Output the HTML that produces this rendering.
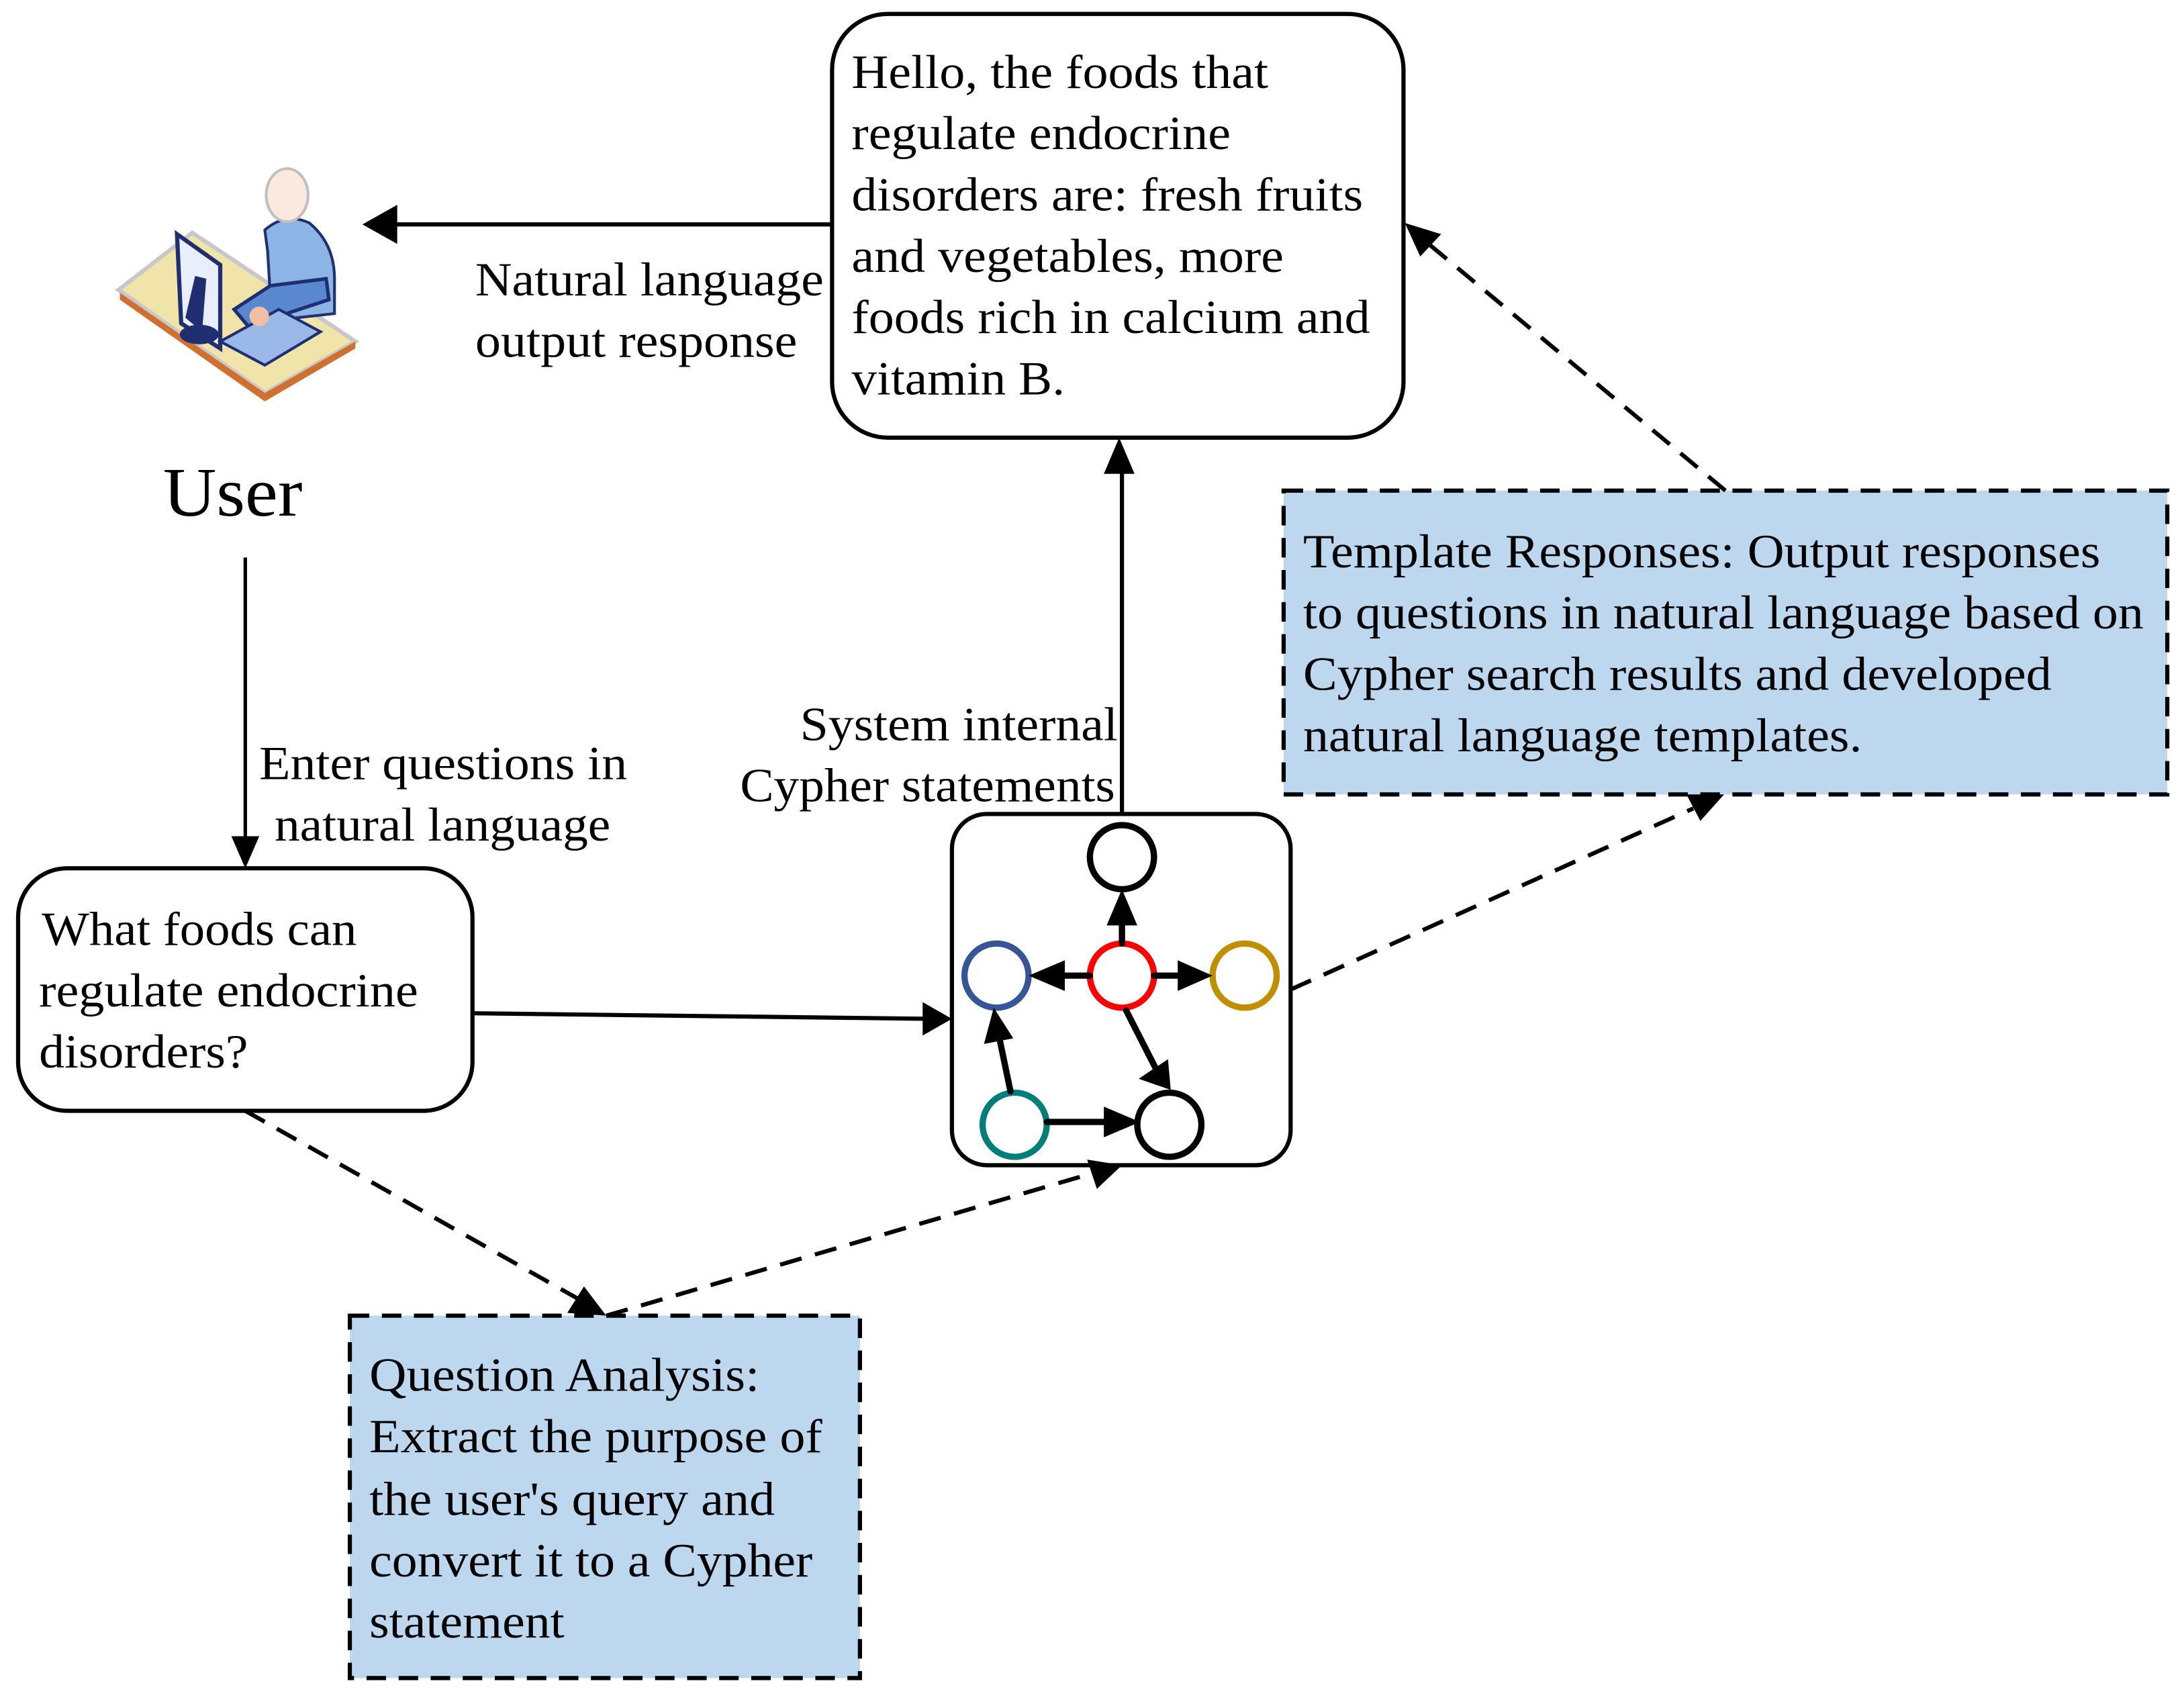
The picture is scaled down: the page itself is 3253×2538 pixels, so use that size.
<!DOCTYPE html>
<html><head><meta charset="utf-8"><style>
html,body{margin:0;padding:0;background:#fff;}
svg{display:block;}
text{font-family:"Liberation Serif",serif;font-size:34px;fill:#000;}
</style></head><body>
<svg width="3253" height="2538" viewBox="0 0 1567 1222.6" preserveAspectRatio="none" xmlns="http://www.w3.org/2000/svg">
<g font-family="Liberation Serif">
<!-- top response box -->
<rect x="597" y="10" width="410" height="304" rx="40" fill="#fff" stroke="#000" stroke-width="3"/>
<text x="611" y="63" textLength="299" lengthAdjust="spacingAndGlyphs">Hello, the foods that</text>
<text x="611" y="107" textLength="272" lengthAdjust="spacingAndGlyphs">regulate endocrine</text>
<text x="611" y="151" textLength="367" lengthAdjust="spacingAndGlyphs">disorders are: fresh fruits</text>
<text x="611" y="195" textLength="310" lengthAdjust="spacingAndGlyphs">and vegetables, more</text>
<text x="611" y="239" textLength="372" lengthAdjust="spacingAndGlyphs">foods rich in calcium and</text>
<text x="611" y="283" textLength="153" lengthAdjust="spacingAndGlyphs">vitamin B.</text>

<!-- arrow to user -->
<line x1="597" y1="161" x2="280" y2="161" stroke="#000" stroke-width="3"/>
<path d="M260,161 L285,147 L285,175 z" fill="#000"/>
<text x="341" y="212" textLength="250" lengthAdjust="spacingAndGlyphs">Natural language</text>
<text x="341" y="256" textLength="231" lengthAdjust="spacingAndGlyphs">output response</text>

<!-- user icon -->
<polygon points="85,208 138,167 255,245 190,282" fill="#f0e4a8" stroke="#c8c8c8" stroke-width="3"/>
<polygon points="86,210 190,282 190,288 86,215" fill="#d07030"/>
<polygon points="255,245 190,282 190,288 255,250" fill="#d07030"/>
<path d="M190,165 Q205,152 222,160 Q240,175 240,200 L240,225 L195,230 L192,180 z" fill="#8cb4e4" stroke="#203070" stroke-width="2"/>
<path d="M194,205 L168,222 L178,234 L236,215 L234,200 z" fill="#5a88d0" stroke="#1e2e70" stroke-width="2.5"/>
<ellipse cx="206" cy="140" rx="15" ry="19" fill="#fbe9df" stroke="#c0c0c0" stroke-width="2"/>
<polygon points="127,168 158,190 158,250 130,232" fill="#e8eefc" stroke="#1e2e70" stroke-width="3"/>
<path d="M133,228 L140,198 L148,200 L145,238 z" fill="#1e2e70"/>
<ellipse cx="143" cy="240" rx="14" ry="7" fill="#1e2e70"/>
<polygon points="158,245 190,262 230,238 200,222" fill="#9ab8e8" stroke="#1e2e70" stroke-width="2"/>
<circle cx="186" cy="227" r="7" fill="#f0c0a0"/>
<text x="117" y="370" textLength="100" lengthAdjust="spacingAndGlyphs" style="font-size:50px">User</text>

<!-- user down arrow -->
<line x1="176" y1="400" x2="176" y2="605" stroke="#000" stroke-width="2.5"/>
<path d="M176,623 L166,600 L186,600 z" fill="#000"/>
<text x="186" y="559" textLength="264" lengthAdjust="spacingAndGlyphs">Enter questions in</text>
<text x="197" y="603" textLength="241" lengthAdjust="spacingAndGlyphs">natural language</text>

<!-- question box -->
<rect x="13" y="623" width="326" height="174" rx="35" fill="#fff" stroke="#000" stroke-width="3"/>
<text x="30" y="678" textLength="226" lengthAdjust="spacingAndGlyphs">What foods can</text>
<text x="28" y="722" textLength="272" lengthAdjust="spacingAndGlyphs">regulate endocrine</text>
<text x="28" y="766" textLength="150" lengthAdjust="spacingAndGlyphs">disorders?</text>

<!-- question -> graph -->
<line x1="339" y1="727" x2="668" y2="731" stroke="#000" stroke-width="3"/>
<path d="M683,731 L662,719 L662,743 z" fill="#000"/>

<!-- graph box -->
<rect x="683" y="584" width="243" height="252" rx="25" fill="#fff" stroke="#000" stroke-width="3"/>
<line x1="805" y1="584" x2="805" y2="335" stroke="#000" stroke-width="3"/>
<path d="M803,314 L792,340 L814,340 z" fill="#000"/>
<text x="802" y="531" text-anchor="end" textLength="228" lengthAdjust="spacingAndGlyphs">System internal</text>
<text x="531" y="575" textLength="269" lengthAdjust="spacingAndGlyphs">Cypher statements</text>

<g stroke-width="4.5" fill="none">
<circle cx="805" cy="615" r="23" stroke="#000"/>
<circle cx="715" cy="700" r="23" stroke="#355597"/>
<circle cx="805" cy="700" r="23" stroke="#f00"/>
<circle cx="893" cy="700" r="23" stroke="#bf8f00"/>
<circle cx="728" cy="807" r="23" stroke="#007f7a"/>
<circle cx="839" cy="807" r="23" stroke="#000"/>
</g>
<g stroke="#000" stroke-width="4.5" stroke-linecap="round">
<line x1="805" y1="677" x2="805" y2="650"/>
<line x1="782" y1="700" x2="755" y2="700"/>
<line x1="828" y1="700" x2="855" y2="700"/>
<line x1="808" y1="725" x2="832" y2="772"/>
<line x1="725" y1="783" x2="715" y2="735"/>
<line x1="751" y1="805" x2="805" y2="805"/>
</g>
<g fill="#000">
<path d="M805,638 L794,664 L816,664 z"/>
<path d="M738,700 L764,689 L764,711 z"/>
<path d="M870,700 L845,689 L845,711 z"/>
<path d="M840,782 L817,774 L838,760 z"/>
<path d="M713,723 L706,749 L727,745 z"/>
<path d="M818,805 L792,794 L792,816 z"/>
</g>

<!-- template box -->
<rect x="921" y="352" width="634" height="218" fill="#bdd7ee" stroke="#000" stroke-width="3" stroke-dasharray="14,9"/>
<text x="935" y="407" textLength="572" lengthAdjust="spacingAndGlyphs">Template Responses: Output responses</text>
<text x="935" y="451" textLength="603" lengthAdjust="spacingAndGlyphs">to questions in natural language based on</text>
<text x="935" y="495" textLength="537" lengthAdjust="spacingAndGlyphs">Cypher search results and developed</text>
<text x="935" y="539" textLength="401" lengthAdjust="spacingAndGlyphs">natural language templates.</text>

<!-- question analysis box -->
<rect x="251" y="944" width="366" height="260" fill="#bdd7ee" stroke="#000" stroke-width="3" stroke-dasharray="14,9"/>
<text x="265" y="998" textLength="280" lengthAdjust="spacingAndGlyphs">Question Analysis:</text>
<text x="265" y="1042" textLength="325" lengthAdjust="spacingAndGlyphs">Extract the purpose of</text>
<text x="265" y="1087" textLength="291" lengthAdjust="spacingAndGlyphs">the user's query and</text>
<text x="265" y="1131" textLength="318" lengthAdjust="spacingAndGlyphs">convert it to a Cypher</text>
<text x="265" y="1175" textLength="140" lengthAdjust="spacingAndGlyphs">statement</text>

<!-- dashed connectors -->
<g stroke="#000" stroke-width="3" stroke-dasharray="16,10" fill="none">
<line x1="1238" y1="352" x2="1025" y2="175"/>
<line x1="926" y1="710" x2="1215" y2="580"/>
<line x1="176" y1="797" x2="415" y2="932"/>
<line x1="435" y1="944" x2="783" y2="842"/>
</g>
<g fill="#000">
<path d="M1008,160 L1034,168 L1019,184 z"/>
<path d="M1237,570 L1220,589 L1210,570 z"/>
<path d="M435,944 L407,942 L419,923 z"/>
<path d="M805,836 L787,853 L780,832 z"/>
</g>
</g>
</svg>
</body></html>
